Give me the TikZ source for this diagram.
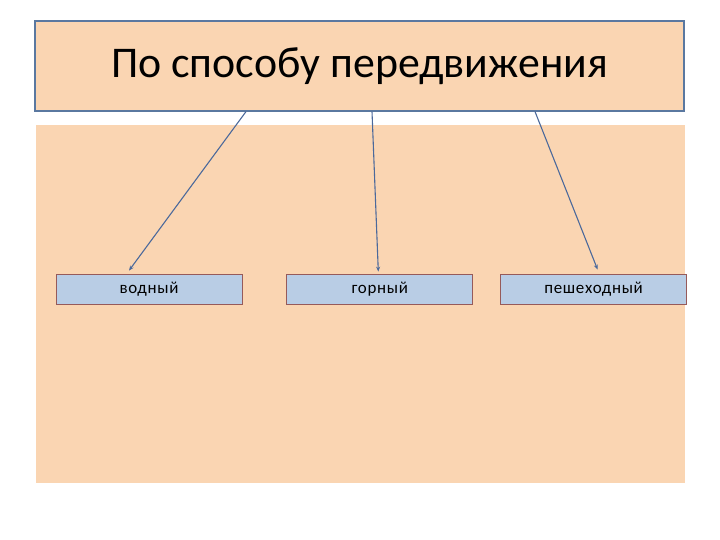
\documentclass[tikz,border=0pt]{standalone}
\usepackage{fontspec}
\setmainfont{Carlito}
\newfontfamily\boxfont[LetterSpace=4]{Carlito}
\usetikzlibrary{positioning,arrows.meta}

\definecolor{peach}{RGB}{250,213,178}
\definecolor{framecol}{RGB}{90,120,160}
\definecolor{leafcol}{RGB}{185,205,229}
\definecolor{leafline}{RGB}{150,90,90}
\definecolor{arrcol}{RGB}{75,105,155}

\begin{document}
\begin{tikzpicture}[
  x=1bp, y=-1bp,
  title/.style  = {rectangle, draw=framecol, line width=1.2bp, fill=peach, minimum width=649bp, minimum height=90bp, inner sep=0pt, font=\fontsize{44}{52}\selectfont},
  panel/.style  = {rectangle, fill=peach, minimum width=649bp, minimum height=358bp, inner sep=0pt},
  leaf/.style   = {rectangle, draw=leafline, line width=0.8bp, fill=leafcol, minimum width=186bp, minimum height=30bp, inner sep=0pt, font=\boxfont\fontsize{17}{20}\selectfont},
  arr/.style    = {draw=arrcol, line width=1.1bp, -{Stealth[length=5bp,width=4bp]}},
  ]
  \useasboundingbox (0,0) rectangle (720,540);
  % background and heading
  \node[panel] (back) at (360.5,304) {};
  \node[title] (head) at (359.5,66) {По способу передвижения};
  % kinds
  \node[leaf] (vod) at (149,289) {водный};
  \node[leaf, right=44bp of vod] (gor) {горный};
  \node[leaf, right=27bp of gor] (pesh) {пешеходный};
  % arrows
  \draw[arr] ([xshift=-113.5bp]head.south) -- ([xshift=-20bp,yshift=3bp]vod.north);
  \draw[arr] ([xshift=12.5bp]head.south) -- ([xshift=-1.5bp,yshift=2bp]gor.north);
  \draw[arr] ([xshift=175.5bp]head.south) -- ([xshift=4bp,yshift=4bp]pesh.north);
\end{tikzpicture}
\end{document}
